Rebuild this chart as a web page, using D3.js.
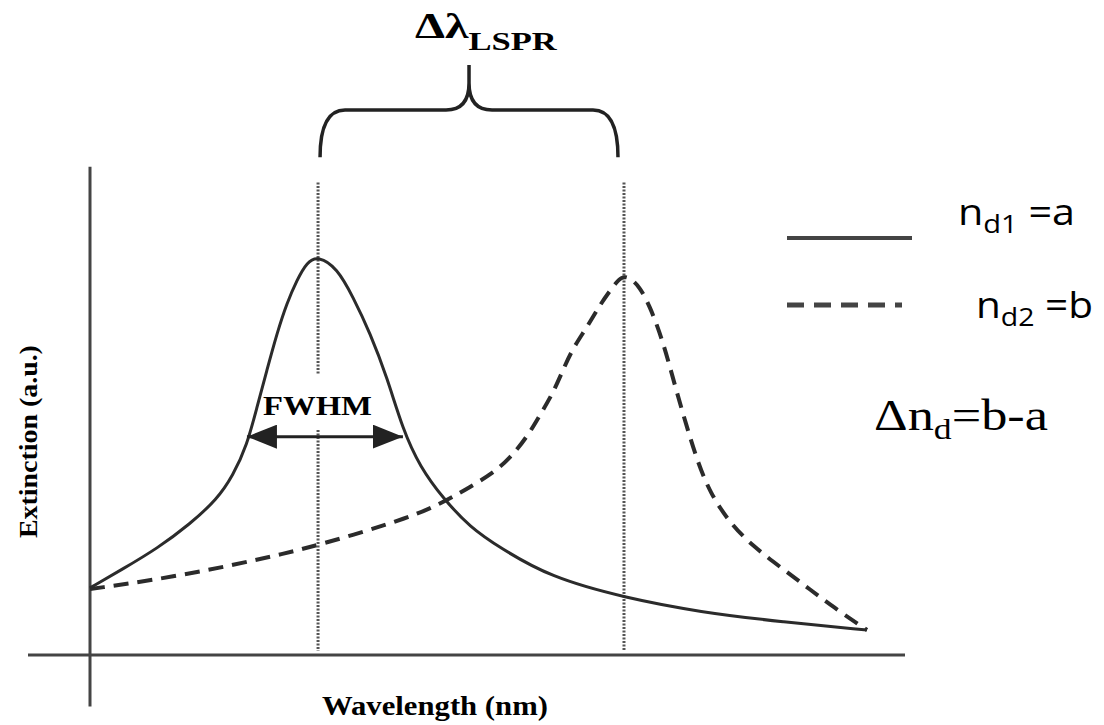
<!DOCTYPE html>
<html>
<head>
<meta charset="utf-8">
<script src="https://cdn.jsdelivr.net/npm/d3@7"></script>
<style>
  body { margin: 0; background: #fff; }
  svg { display: block; }
  .serif { font-family: "Liberation Serif", "DejaVu Serif", serif; }
  .sans { font-family: "Open Sans", "Liberation Sans", sans-serif; }
</style>
</head>
<body>
<script>
// wavelength (nm) and extinction (a.u.)
const solid_wavelength = [400, 417.0, 434.5, 451.5, 465.4, 473.6, 480.8, 486.0, 491.1, 496.3, 501.4, 506.6,
  511.7, 517.4, 527.2, 535.4, 544.2, 552.9, 561.1, 569.9, 581.7, 595.6, 611.1, 636.8, 675.4, 714.0, 756.8, 800];
const solid_extinction = [0.169, 0.217, 0.268, 0.330, 0.392, 0.452, 0.528, 0.625, 0.718, 0.811, 0.887, 0.945,
  0.990, 1.005, 0.975, 0.902, 0.811, 0.700, 0.567, 0.474, 0.395, 0.322, 0.270, 0.196, 0.144, 0.108, 0.083, 0.063];

const dashed_wavelength = [400, 442.7, 486.0, 518.4, 566.3, 583.8, 595.6, 607.5, 616.2, 625.0, 631.7, 638.4,
  643.5, 648.6, 655.9, 662.5, 669.2, 673.8, 678.0, 683.1, 688.3, 693.4, 697.6, 702.2, 707.3, 712.5, 719.2,
  729.5, 741.3, 755.2, 769.1, 782.5, 800];
const dashed_extinction = [0.166, 0.196, 0.239, 0.277, 0.348, 0.390, 0.423, 0.458, 0.496, 0.549, 0.605, 0.660,
  0.718, 0.773, 0.826, 0.882, 0.928, 0.955, 0.950, 0.927, 0.877, 0.811, 0.743, 0.660, 0.574, 0.491, 0.408,
  0.332, 0.274, 0.222, 0.171, 0.121, 0.063];

const peak_wavelengths = [517.4, 674.9];
const fwhm_ends = [480.8, 561.1];
const fwhm_level = 0.55;

const legend_labels = [["n", "d1", " =a"], ["n", "d2", " =b"]];

const width = 1104, height = 725;

const svg = d3.select('body').append('svg').attr('width', width).attr('height', height);

const x = d3.scaleLinear().domain([400, 800]).range([90, 867]);
const y = d3.scaleLinear().domain([0, 1]).range([655, 258]);

const ink = '#2b2b2b';

// bare axes
svg.append('line')
  .attr('x1', x(400) - 62).attr('x2', x(800) + 38)
  .attr('y1', y(0)).attr('y2', y(0))
  .attr('stroke', '#444').attr('stroke-width', 3);
svg.append('line')
  .attr('x1', x(400)).attr('x2', x(400))
  .attr('y1', y(1.23)).attr('y2', y(-0.13))
  .attr('stroke', '#444').attr('stroke-width', 3);

// dotted peak markers
const dotted = (x0, yTop, yBot) => svg.append('line')
  .attr('x1', x0).attr('x2', x0).attr('y1', yTop).attr('y2', yBot)
  .attr('stroke', '#555').attr('stroke-width', 3).attr('stroke-dasharray', '2,1.5');
dotted(x(peak_wavelengths[0]), y(1.19), y(0.705));
dotted(x(peak_wavelengths[0]), y(0.567), y(0.01));
dotted(x(peak_wavelengths[1]), y(1.19), y(0.01));

// curves
const line = d3.line().x(d => x(d[0])).y(d => y(d[1])).curve(d3.curveBasis);

svg.append('path')
  .attr('d', line(d3.zip(dashed_wavelength, dashed_extinction)))
  .attr('fill', 'none').attr('stroke', ink).attr('stroke-width', 4)
  .attr('stroke-dasharray', '15,9');

svg.append('path')
  .attr('d', line(d3.zip(solid_wavelength, solid_extinction)))
  .attr('fill', 'none').attr('stroke', ink).attr('stroke-width', 3);

// FWHM arrow
const defs = svg.append('defs');
defs.append('marker').attr('id', 'head')
  .attr('viewBox', '0 0 30 24').attr('refX', 30).attr('refY', 12)
  .attr('markerWidth', 30).attr('markerHeight', 24)
  .attr('markerUnits', 'userSpaceOnUse').attr('orient', 'auto-start-reverse')
  .append('path').attr('d', 'M0,0 L30,12 L0,24 Z').attr('fill', '#222');

svg.append('line')
  .attr('x1', x(fwhm_ends[0])).attr('x2', x(fwhm_ends[1]))
  .attr('y1', y(fwhm_level)).attr('y2', y(fwhm_level))
  .attr('stroke', '#222').attr('stroke-width', 3)
  .attr('marker-start', 'url(#head)').attr('marker-end', 'url(#head)');

// brace over the shift
const bl = x(peak_wavelengths[0]) + 2, br = x(peak_wavelengths[1]) - 6, bc = (bl + br) / 2;
const yEnd = y(1.254), yBar = y(1.373), yNeck = y(1.441), yTip = y(1.486);
const brace = d3.path();
brace.moveTo(bl, yEnd);
brace.quadraticCurveTo(bl, yBar, bl + 25, yBar);
brace.lineTo(bc - 23, yBar);
brace.quadraticCurveTo(bc, yBar, bc, yNeck);
brace.lineTo(bc, yTip);
brace.moveTo(bc, yNeck);
brace.quadraticCurveTo(bc, yBar, bc + 23, yBar);
brace.lineTo(br - 25, yBar);
brace.quadraticCurveTo(br, yBar, br, yEnd);
svg.append('path').attr('d', brace.toString())
  .attr('fill', 'none').attr('stroke', '#222').attr('stroke-width', 3.5);

// stretch a text to the width it takes in the picture
function fit(t, x0, y0, w, rot) {
  const bw = t.node().getBBox().width;
  t.attr('transform', `translate(${x0},${y0})${rot ? ' rotate(-90)' : ''} scale(${w / bw},1)`);
  return t;
}

let t = svg.append('text').attr('class', 'serif').attr('font-weight', 'bold').attr('fill', '#000');
t.append('tspan').attr('font-size', 36).text('Δλ');
t.append('tspan').attr('font-size', 26).attr('dy', 12).text('LSPR');
fit(t, 415, 38, 142);

t = svg.append('text').attr('class', 'serif').attr('font-weight', 'bold').attr('font-size', 27)
  .attr('fill', '#000').text('FWHM');
fit(t, 263, 415, 109);

t = svg.append('text').attr('class', 'serif').attr('font-weight', 'bold').attr('font-size', 27)
  .attr('fill', '#000').text('Wavelength (nm)');
fit(t, 322, 715, 226);

t = svg.append('text').attr('class', 'serif').attr('font-weight', 'bold').attr('font-size', 26)
  .attr('fill', '#000').text('Extinction (a.u.)');
fit(t, 37, 538, 193, true);

// legend
svg.append('line').attr('x1', 787).attr('x2', 912).attr('y1', 238).attr('y2', 238)
  .attr('stroke', '#444').attr('stroke-width', 4);
svg.append('line').attr('x1', 787).attr('x2', 902).attr('y1', 305).attr('y2', 305)
  .attr('stroke', '#444').attr('stroke-width', 5).attr('stroke-dasharray', '17,10');

const legend_pos = [[958, 225, 117], [976, 318, 117]];
legend_labels.forEach((lab, i) => {
  const lt = svg.append('text').attr('class', 'sans').attr('fill', '#000').attr('font-size', 37);
  lt.append('tspan').text(lab[0]);
  lt.append('tspan').attr('font-size', 26).attr('dy', 8).text(lab[1]);
  lt.append('tspan').attr('dy', -8).text(lab[2]);
  lt.attr('xml:space', 'preserve');
  fit(lt, ...legend_pos[i]);
});

t = svg.append('text').attr('class', 'serif').attr('fill', '#000').attr('font-size', 44);
t.append('tspan').text('Δn');
t.append('tspan').attr('font-size', 30).attr('dy', 9).text('d');
t.append('tspan').attr('dy', -9).text('=b-a');
fit(t, 874, 430, 174);
</script>
</body>
</html>
